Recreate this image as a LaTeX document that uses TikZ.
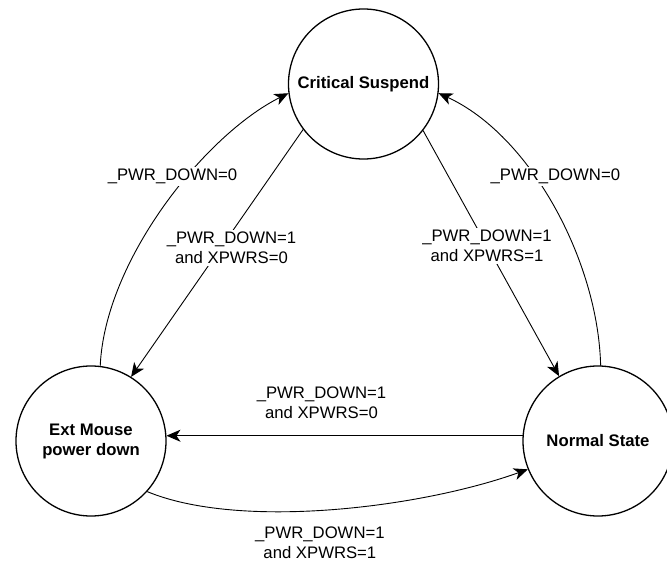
\documentclass[tikz,border=0pt]{standalone}
\usepackage{fontspec}
\setmainfont{Liberation Sans}
\usetikzlibrary{arrows.meta}
\begin{document}
\begin{tikzpicture}[line join=round,line cap=round,>={Stealth[length=14pt,width=12pt,inset=4pt]},x=1pt,y=-1pt,line width=.9pt]
  \tikzset{state/.style={draw,circle,line width=1.3pt,minimum size=150pt,inner sep=0pt,align=center,font=\fontsize{16.7}{20}\selectfont\bfseries},
    cond/.style={fill=white,inner sep=2pt,align=center,font=\fontsize{16.7}{20}\selectfont}}
  \useasboundingbox (0,0) rectangle (667,565);
  \clip (0,0) rectangle (667,565);
  \node[state] (crit) at (363.5,84) {Critical Suspend};
  \node[state] (ext) at (91,441) {Ext Mouse\\power down};
  \node[state] (norm) at (598,441) {Normal State};
  \draw[->] (ext.83) .. controls (105,260) and (205,135) .. (crit.187)
    node[cond,pos=.6,xshift=-15pt] {\_PWR\_DOWN=0};
  \draw[->] (norm.88) .. controls (598,260) and (530,135) .. (crit.353)
    node[cond,pos=.6,xshift=21pt] {\_PWR\_DOWN=0};
  \draw[->] (crit.217) -- (ext.58) node[cond,pos=.48,xshift=11pt] {\_PWR\_DOWN=1\\and XPWRS=0};
  \draw[->] (crit.322) -- (norm.121) node[cond,pos=.47] {\_PWR\_DOWN=1\\and XPWRS=1};
  \draw[->] (norm.176) -- (ext.4) node[cond,pos=.5,above=14.5pt,xshift=-23pt] {\_PWR\_DOWN=1\\and XPWRS=0};
  \draw[->] (ext.318) .. controls (240,530) and (420,508) .. (norm.202)
    node[cond,pos=.5,below=15pt,xshift=-12pt] {\_PWR\_DOWN=1\\and XPWRS=1};
\end{tikzpicture}
\end{document}
